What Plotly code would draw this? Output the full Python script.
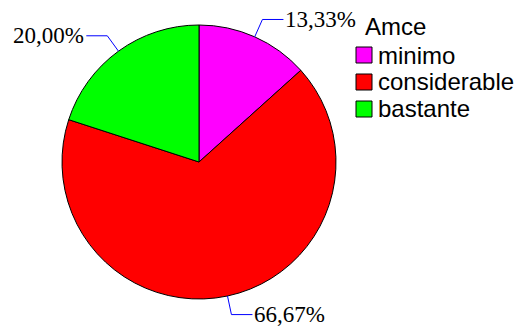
import math
import plotly.graph_objects as go

# Chart data
categories = ["minimo", "considerable", "bastante"]
values = [13.33, 66.67, 20.00]
value_labels = ["13,33%", "66,67%", "20,00%"]
colors = ["#FF00FF", "#FF0000", "#00FF00"]
legend_title = "Amce"

# Canvas and pie geometry (pixels)
W, H = 529, 327
CX, CY, R = 199, 162, 137
LEADER_OUT = 19      # radial part of the leader line
LEADER_SIDE = 21     # horizontal part of the leader line

SERIF = "Liberation Serif, Times New Roman, serif"
SANS = "Liberation Sans, Arial, sans-serif"


def px(x):
    return x / W


def py(y):
    return 1 - y / H


fig = go.Figure(
    go.Pie(
        labels=categories,
        values=values,
        marker=dict(colors=colors, line=dict(color="black", width=1)),
        sort=False,
        direction="clockwise",
        rotation=0,
        textinfo="none",
        hoverinfo="label+percent",
        showlegend=False,
        domain=dict(x=[px(CX - R), px(CX + R)], y=[py(CY + R), py(CY - R)]),
    )
)

shapes = []
annotations = []

# Leader lines and outside percentage labels, placed at each slice's mid-angle
total = sum(values)
start = 0.0
for val, lab in zip(values, value_labels):
    sweep = 360.0 * val / total
    mid = math.radians(start + sweep / 2)
    start += sweep
    dx, dy = math.sin(mid), -math.cos(mid)
    x0, y0 = CX + R * dx, CY + R * dy
    x1, y1 = x0 + LEADER_OUT * dx, y0 + LEADER_OUT * dy
    side = 1 if dx >= 0 else -1
    x2 = x1 + side * LEADER_SIDE
    for (a, b, c, d) in [(x0, y0, x1, y1), (x1, y1, x2, y1)]:
        shapes.append(dict(type="line", xref="paper", yref="paper",
                           x0=px(a), y0=py(b), x1=px(c), y1=py(d),
                           line=dict(color="#0000FF", width=1)))
    annotations.append(dict(
        x=px(x2 + side * 1), y=py(y1), xref="paper", yref="paper",
        text=lab, showarrow=False,
        xanchor="left" if side > 0 else "right", yanchor="middle",
        font=dict(family=SERIF, size=23, color="black"),
        borderpad=0,
    ))

# Legend: title, colour boxes and category names
LEG_X, LEG_Y0, LEG_STEP, BOX = 356, 55, 27, 16
annotations.append(dict(
    x=px(LEG_X + 8), y=py(27), xref="paper", yref="paper",
    text=legend_title, showarrow=False, xanchor="left", yanchor="middle",
    font=dict(family=SANS, size=24, color="black"), borderpad=0,
))
for i, (cat, col) in enumerate(zip(categories, colors)):
    yc = LEG_Y0 + i * LEG_STEP
    shapes.append(dict(type="rect", xref="paper", yref="paper",
                       x0=px(LEG_X), x1=px(LEG_X + BOX),
                       y0=py(yc - BOX / 2), y1=py(yc + BOX / 2),
                       fillcolor=col, line=dict(color="black", width=1)))
    annotations.append(dict(
        x=px(LEG_X + BOX + 5), y=py(yc), xref="paper", yref="paper",
        text=cat, showarrow=False, xanchor="left", yanchor="middle",
        font=dict(family=SANS, size=24, color="black"), borderpad=0,
    ))

fig.update_layout(
    width=W, height=H,
    margin=dict(l=0, r=0, t=0, b=0),
    paper_bgcolor="white", plot_bgcolor="white",
    shapes=shapes, annotations=annotations,
    showlegend=False,
)

fig.write_html("out.html")
